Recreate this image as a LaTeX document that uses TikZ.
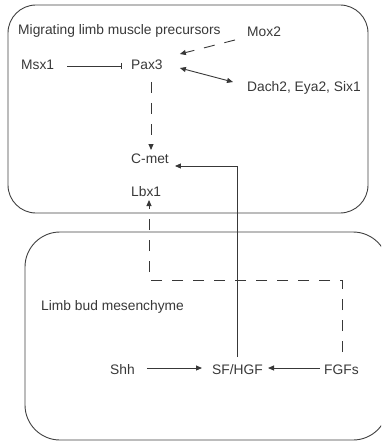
\documentclass[tikz,border=0pt]{standalone}
\usepackage{fontspec}
\setmainfont{Liberation Sans}
\usetikzlibrary{arrows.meta}
\begin{document}
\begin{tikzpicture}[x=1pt,y=-1pt,
 lbl/.style={inner sep=0pt, anchor=base west, text=black!78, font=\fontsize{13.8}{16}\selectfont},
 conn/.style={draw=black!78, line width=0.9pt},
 tip/.style={-{Triangle[length=6pt,width=5pt]}},
 dtip/.style={{Triangle[length=6pt,width=5pt]}-{Triangle[length=6pt,width=5pt]}},
 dsh/.style={dash pattern=on 11pt off 10pt},
 boxline/.style={draw=black!75, line width=0.9pt}]
\useasboundingbox (0,0) rectangle (381,441);
\begin{scope}
\clip (0,0) rectangle (381,441);
\draw[boxline, rounded corners=28pt] (8,5) rectangle (368,213);
\draw[boxline, rounded corners=35pt] (25,232) rectangle (388,440);
\end{scope}
\node[lbl] (mig) at (18,35) {Migrating limb muscle precursors};
\node[lbl] (mox) at (247,37) {Mox2};
\node[lbl] (msx) at (21,70) {Msx1};
\node[lbl] (pax) at (131,70) {Pax3};
\node[lbl] (dach) at (247,92) {Dach2, Eya2, Six1};
\node[lbl] (cmet) at (131,163) {C-met};
\node[lbl] (lbx) at (131,196) {Lbx1};
\node[lbl] (limb) at (41,310) {Limb bud mesenchyme};
\node[lbl] (shh) at (110,374) {Shh};
\node[lbl] (sf) at (212,374) {SF/HGF};
\node[lbl] (fgf) at (324,374) {FGFs};
% Msx1 -| Pax3
\draw[conn, -{Bar[width=6pt]}] ([shift={(13,-4)}]msx.base east) -- ([shift={(-9,-4)}]pax.base west);
% Mox2 -> Pax3
\draw[conn, dsh, tip] ([shift={(-12,3)}]mox.base west) -- ([shift={(17,-16)}]pax.base east);
% Pax3 <-> Dach2
\draw[conn, dtip] ([shift={(17,-2)}]pax.base east) -- ([shift={(-14,-10)}]dach.base west);
% Pax3 -> C-met
\draw[conn, dsh, tip] ([shift={(20,12)}]pax.base west) -- ([shift={(20,-13)}]cmet.base west);
% SF/HGF -> C-met
\draw[conn, tip] ([shift={(25,-17)}]sf.base west) |- ([shift={(6,3)}]cmet.base east);
% FGFs -> Lbx1
\draw[conn, dsh, tip] ([shift={(18,-22)}]fgf.base west) -- ++(0,-72) -| ([shift={(18,4)}]lbx.base west);
% Shh -> SF/HGF
\draw[conn, tip] ([shift={(12,-6)}]shh.base east) -- ([shift={(-10,-6)}]sf.base west);
% FGFs -> SF/HGF
\draw[conn, tip] ([shift={(-4,-6)}]fgf.base west) -- ([shift={(5,-6)}]sf.base east);
\end{tikzpicture}
\end{document}
